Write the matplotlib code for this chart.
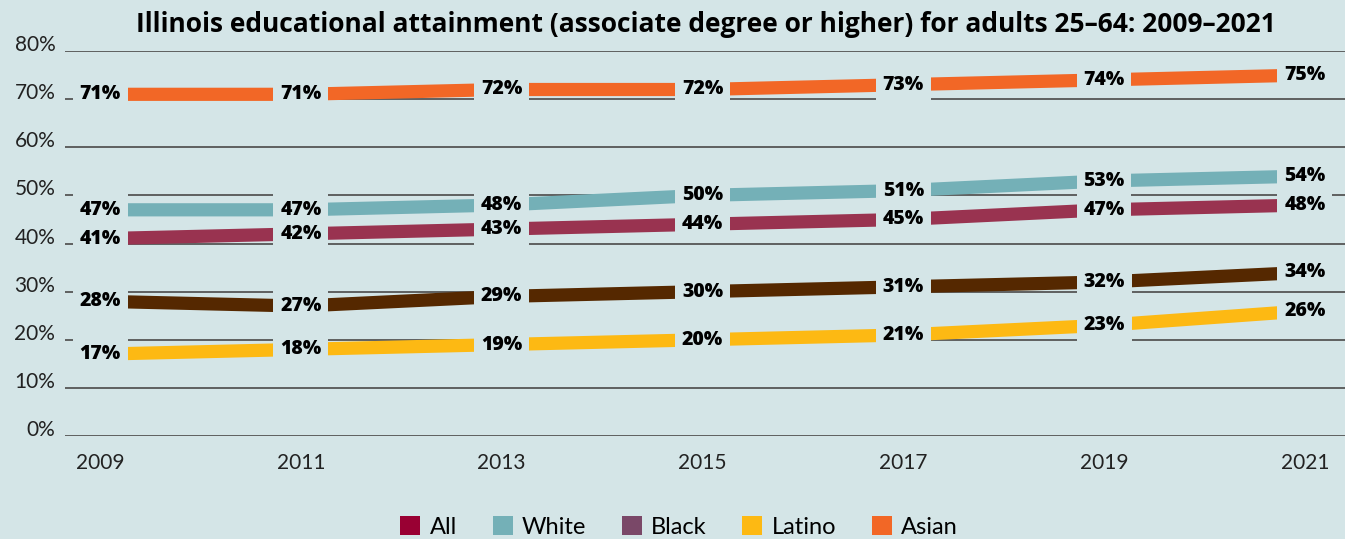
import matplotlib
matplotlib.use("Agg")
import matplotlib.pyplot as plt
from matplotlib.patches import Patch

# Attainment (associate degree or higher), adults 25-64, percent
anos = [2009, 2011, 2013, 2015, 2017, 2019, 2021]
asian = [71, 71, 72, 72, 73, 74, 75]
white = [47, 47, 48, 50, 51, 53, 54]
todos = [41, 42, 43, 44, 45, 47, 48]
black = [28, 27, 29, 30, 31, 32, 34]
latino = [17, 18, 19, 20, 21, 23, 26]

yticks = [0, 10, 20, 30, 40, 50, 60, 70, 80]

fundo = "#d4e5e7"

series = [
    (asian, "#f26726"),
    (white, "#74b0b7"),
    (todos, "#993350"),
    (black, "#552800"),
    (latino, "#fdb913"),
]

legenda = [
    ("All", "#990033"),
    ("White", "#74b0b7"),
    ("Black", "#7a4868"),
    ("Latino", "#fdb913"),
    ("Asian", "#f26726"),
]

fig = plt.figure(figsize=(13.45, 5.39), dpi=100, facecolor=fundo)
ax = fig.add_axes([65 / 1345, 103 / 539, 1280 / 1345, 385 / 539])
ax.set_facecolor(fundo)

# grid lines
for v in yticks:
    ax.axhline(v, color="#555555", lw=1.3, zorder=1)

for valores, cor in series:
    ax.plot(anos, valores, color=cor, lw=9.5, solid_capstyle="butt", zorder=2)
    for x, y in zip(anos, valores):
        ax.text(x, y, "{}%".format(y), ha="center", va="center",
                fontsize=14, fontweight="heavy", family="Open Sans", color="black",
                zorder=3,
                bbox=dict(boxstyle="square,pad=0.35", fc=fundo, ec="none"))

ax.set_xlim(2008.65, 2021.4)
ax.set_ylim(0, 80)
ax.set_yticks(yticks)
ax.set_yticklabels(["{}%".format(v) for v in yticks], family="Lato",
                   fontsize=15, color="#222222")
for lbl in ax.get_yticklabels():
    lbl.set_va("baseline")
ax.set_xticks(anos)
ax.set_xticklabels([str(a) for a in anos], family="Lato", fontsize=15,
                   color="#222222")
ax.tick_params(axis="both", length=0)
ax.tick_params(axis="x", pad=12)
ax.tick_params(axis="y", pad=7)
for s in ax.spines.values():
    s.set_visible(False)

fig.text(706 / 1345, 1 - 24 / 539,
         "Illinois educational attainment (associate degree or higher) for adults 25\u201364: 2009\u20132021",
         ha="center", va="center", fontsize=19, fontweight="bold",
         family="Open Sans", color="black")

handles = [Patch(facecolor=c, edgecolor="none", label=n) for n, c in legenda]
fig.legend(handles=handles, loc="center", bbox_to_anchor=(0.505, 12 / 539),
           ncol=5, frameon=False, handlelength=0.85, handleheight=0.85,
           handletextpad=0.4, columnspacing=1.5,
           prop={"family": "Lato", "size": 17})

fig.savefig("out.png", dpi=100, facecolor=fundo)
